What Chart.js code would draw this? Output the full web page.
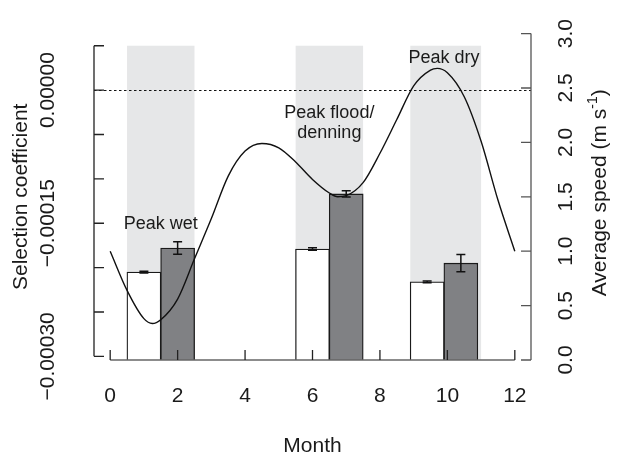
<!DOCTYPE html>
<html>
<head>
<meta charset="utf-8">
<title>Selection coefficient and average speed by month</title>
<script src="https://cdn.jsdelivr.net/npm/chart.js@4.4.1/dist/chart.umd.min.js"></script>
<style>
  html, body { margin: 0; padding: 0; background: #fff; }
  .chart-box { position: relative; width: 617px; height: 453px; }
</style>
</head>
<body>
<div class="chart-box"><canvas id="speedChart"></canvas></div>
<script>
// selection coefficients (left axis), white and grey bar of each season
const whiteMonths = [1, 6, 9.4];
const whiteValues = [-0.000205, -0.000179, -0.000216];
const whiteErrors = [0.000001, 0.0000015, 0.000001];
const greyMonths = [2, 7, 10.4];
const greyValues = [-0.000178, -0.000117, -0.000195];
const greyErrors = [0.000007, 0.0000035, 0.0000098];

// average speed curve (right axis)
const speedMonths = [0, 0.5, 1, 1.25, 1.5, 2, 2.5, 3, 3.5, 4, 4.5, 5, 5.5, 6, 6.5, 6.75, 7, 7.5, 8, 8.5, 9, 9.5, 9.7, 10, 10.5, 11, 11.5, 12];
const speedValues = [1.00, 0.64, 0.38, 0.335, 0.37, 0.56, 0.93, 1.30, 1.69, 1.92, 1.99, 1.95, 1.82, 1.66, 1.535, 1.50, 1.51, 1.63, 1.90, 2.21, 2.52, 2.665, 2.68, 2.64, 2.42, 2.01, 1.47, 1.00];

// shaded seasons
const seasonStarts = [0.5, 5.5, 8.9];
const seasonEnds = [2.5, 7.5, 11];

// axes
const monthTicks = [0, 2, 4, 6, 8, 10, 12];
const coefTicks = [-0.0003, -0.00025, -0.0002, -0.00015, -0.0001, -0.00005, 0, 0.00005];
const coefLabelled = [-0.0003, -0.00015, 0];
const speedTicks = [0, 0.5, 1, 1.5, 2, 2.5, 3];

const COEF_MIN = -0.00030411;
const COEF_MAX = 0.00006367;
const FONT = "'Liberation Sans', Arial, Helvetica, sans-serif";
const INK = '#1a1a1a';

// season notes, placed in month / speed units
const notes = [
  { lines: ['Peak wet'], month: 1.5, speed: 1.25 },
  { lines: ['Peak flood/', 'denning'], month: 6.5, speed: 2.175 },
  { lines: ['Peak dry'], month: 9.9, speed: 2.78 }
];

Chart.defaults.font.family = FONT;

const fmtCoef = (v) => {
  if (Math.abs(v) < 1e-12) return '0.00000';
  return (v < 0 ? '\u2212' : '') + Math.abs(v).toFixed(5);
};

const rStyle = {
  id: 'rStyle',
  beforeDatasetsDraw(chart) {
    const { ctx, chartArea: a, scales: { x, y } } = chart;
    ctx.save();
    ctx.fillStyle = '#e6e7e8';
    const top = y.getPixelForValue(coefTicks[coefTicks.length - 1]);
    seasonStarts.forEach((s, i) => {
      const x0 = x.getPixelForValue(s);
      const x1 = x.getPixelForValue(seasonEnds[i]);
      ctx.fillRect(x0, top, x1 - x0, a.bottom - top);
    });
    ctx.strokeStyle = '#111';
    ctx.lineWidth = 1;
    ctx.setLineDash([2.5, 2.5]);
    const zy = Math.round(y.getPixelForValue(0)) + 0.5;
    ctx.beginPath();
    ctx.moveTo(a.left, zy);
    ctx.lineTo(a.right, zy);
    ctx.stroke();
    ctx.restore();
  },
  afterDatasetsDraw(chart) {
    const { ctx, chartArea: a, scales: { x, y, y2 } } = chart;
    ctx.save();

    // error bars
    ctx.strokeStyle = '#111';
    ctx.lineWidth = 1.5;
    [[1, whiteValues, whiteErrors], [2, greyValues, greyErrors]].forEach(([idx, vals, errs]) => {
      chart.getDatasetMeta(idx).data.forEach((bar, i) => {
        const hi = y.getPixelForValue(vals[i] + errs[i]);
        const lo = y.getPixelForValue(vals[i] - errs[i]);
        ctx.beginPath();
        ctx.moveTo(bar.x, hi); ctx.lineTo(bar.x, lo);
        ctx.moveTo(bar.x - 4.5, hi); ctx.lineTo(bar.x + 4.5, hi);
        ctx.moveTo(bar.x - 4.5, lo); ctx.lineTo(bar.x + 4.5, lo);
        ctx.stroke();
      });
    });

    // R style axes, ticks pointing inwards
    ctx.lineWidth = 1.3;
    ctx.strokeStyle = '#222';
    ctx.beginPath();
    ctx.moveTo(a.left, y.getPixelForValue(coefTicks[0]));
    ctx.lineTo(a.left, y.getPixelForValue(coefTicks[coefTicks.length - 1]));
    coefTicks.forEach((v) => {
      const p = y.getPixelForValue(v);
      ctx.moveTo(a.left, p); ctx.lineTo(a.left + 10, p);
    });
    ctx.stroke();

    ctx.strokeStyle = '#555';
    ctx.beginPath();
    ctx.moveTo(a.right, y2.getPixelForValue(speedTicks[0]));
    ctx.lineTo(a.right, y2.getPixelForValue(speedTicks[speedTicks.length - 1]));
    speedTicks.forEach((v) => {
      const p = y2.getPixelForValue(v);
      ctx.moveTo(a.right, p); ctx.lineTo(a.right - 10, p);
    });
    ctx.stroke();

    ctx.strokeStyle = '#666';
    ctx.beginPath();
    ctx.moveTo(x.getPixelForValue(monthTicks[0]), a.bottom);
    ctx.lineTo(x.getPixelForValue(monthTicks[monthTicks.length - 1]), a.bottom);
    ctx.stroke();
    ctx.strokeStyle = '#222';
    ctx.beginPath();
    monthTicks.forEach((v) => {
      const p = x.getPixelForValue(v);
      ctx.moveTo(p, a.bottom); ctx.lineTo(p, a.bottom - 10);
    });
    ctx.stroke();

    // season notes
    ctx.fillStyle = INK;
    ctx.font = `18px ${FONT}`;
    ctx.textAlign = 'center';
    ctx.textBaseline = 'middle';
    notes.forEach((n) => {
      const nx = x.getPixelForValue(n.month);
      const ny = y2.getPixelForValue(n.speed);
      n.lines.forEach((line, i) => {
        ctx.fillText(line, nx, ny + (i - (n.lines.length - 1) / 2) * 20);
      });
    });

    // right axis title, reading bottom to top with superscript
    ctx.translate(600, (a.top + a.bottom) / 2 - 4);
    ctx.rotate(-Math.PI / 2);
    ctx.textAlign = 'left';
    ctx.textBaseline = 'middle';
    const main = 'Average speed (m s';
    const sup = '-1';
    ctx.font = `21px ${FONT}`;
    const wMain = ctx.measureText(main).width;
    const wClose = ctx.measureText(')').width;
    ctx.font = `14px ${FONT}`;
    const wSup = ctx.measureText(sup).width;
    let tx = -(wMain + wSup + wClose) / 2;
    ctx.font = `21px ${FONT}`;
    ctx.fillText(main, tx, 0);
    tx += wMain;
    ctx.font = `14px ${FONT}`;
    ctx.fillText(sup, tx, -7);
    tx += wSup;
    ctx.font = `21px ${FONT}`;
    ctx.fillText(')', tx, 0);

    ctx.restore();
  }
};

new Chart(document.getElementById('speedChart'), {
  type: 'bar',
  data: {
    datasets: [
      {
        type: 'line',
        data: speedMonths.map((m, i) => ({ x: m, y: speedValues[i] })),
        yAxisID: 'y2',
        borderColor: '#111',
        borderWidth: 1.4,
        pointRadius: 0,
        cubicInterpolationMode: 'monotone',
        order: 0
      },
      {
        data: whiteMonths.map((m, i) => ({ x: m, y: whiteValues[i] })),
        yAxisID: 'y',
        backgroundColor: '#ffffff',
        borderColor: '#1a1a1a',
        borderWidth: 1.3,
        barThickness: 34,
        grouped: false,
        base: COEF_MIN,
        order: 1
      },
      {
        data: greyMonths.map((m, i) => ({ x: m, y: greyValues[i] })),
        yAxisID: 'y',
        backgroundColor: '#808184',
        borderColor: '#1a1a1a',
        borderWidth: 1.3,
        barThickness: 34,
        grouped: false,
        base: COEF_MIN,
        order: 1
      }
    ]
  },
  options: {
    responsive: true,
    maintainAspectRatio: false,
    animation: false,
    layout: { padding: { top: 29, left: 0, right: 0, bottom: 0 } },
    plugins: { legend: { display: false }, tooltip: { enabled: false } },
    scales: {
      x: {
        type: 'linear',
        min: -0.48,
        max: 12.48,
        offset: false,
        grid: { display: false, drawTicks: false },
        border: { display: false },
        afterBuildTicks: (s) => { s.ticks = monthTicks.map((v) => ({ value: v })); },
        afterFit: (s) => { s.height = 93; },
        ticks: { color: INK, font: { size: 21 }, padding: 24, autoSkip: false, maxRotation: 0 },
        title: { display: true, text: 'Month', color: INK, font: { size: 21 }, padding: { top: 0, bottom: -5.6 } }
      },
      y: {
        position: 'left',
        min: COEF_MIN,
        max: COEF_MAX,
        grid: { display: false, drawTicks: false },
        border: { display: false },
        afterBuildTicks: (s) => { s.ticks = coefTicks.map((v) => ({ value: v })); },
        afterFit: (s) => { s.width = 94; },
        ticks: {
          color: INK,
          font: { size: 21 },
          minRotation: 90,
          maxRotation: 90,
          crossAlign: 'center',
          padding: 2,
          autoSkip: false,
          callback: (v) => (coefLabelled.some((t) => Math.abs(t - v) < 1e-9) ? fmtCoef(v) : '')
        },
        title: { display: true, text: 'Selection coefficient', color: INK, font: { size: 21 }, padding: { top: 9, bottom: 0 } }
      },
      y2: {
        position: 'right',
        min: 0,
        max: 3,
        grid: { display: false, drawTicks: false },
        border: { display: false },
        afterBuildTicks: (s) => { s.ticks = speedTicks.map((v) => ({ value: v })); },
        afterFit: (s) => { s.width = 86; },
        ticks: {
          color: INK,
          font: { size: 21 },
          minRotation: 90,
          maxRotation: 90,
          crossAlign: 'center',
          padding: 21,
          autoSkip: false,
          callback: (v) => Number(v).toFixed(1)
        }
      }
    }
  },
  plugins: [rStyle]
});
</script>
</body>
</html>
